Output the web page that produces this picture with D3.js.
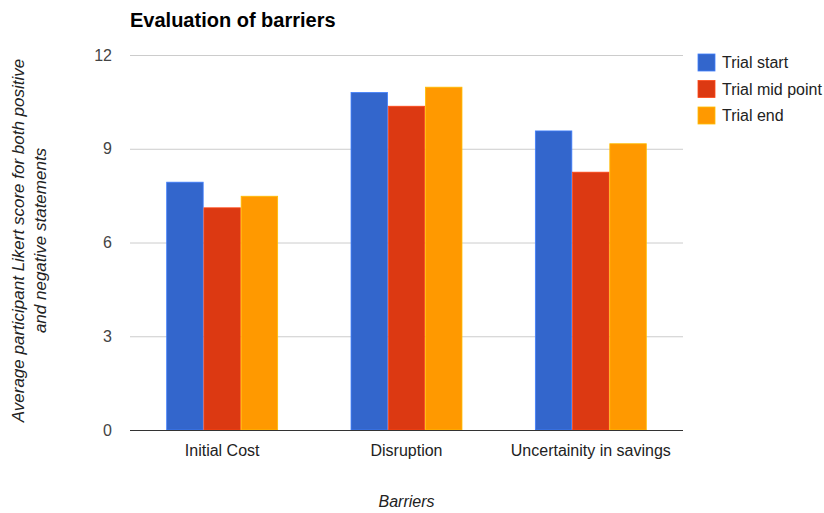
<!DOCTYPE html>
<html>
<head>
<meta charset="utf-8">
<script src="https://cdn.jsdelivr.net/npm/d3@7"></script>
<style>
  body { margin: 0; background: #fff; }
  svg { font-family: "Liberation Sans", Arial, sans-serif; }
</style>
</head>
<body>
<svg id="chart" width="824" height="513"></svg>
<script>
// Barrier categories and the three survey rounds
const categories = ["Initial Cost", "Disruption", "Uncertainity in savings"];
const seriesNames = ["Trial start", "Trial mid point", "Trial end"];
const trialStart = [7.93, 10.8, 9.57];
const trialMid = [7.11, 10.36, 8.25];
const trialEnd = [7.48, 10.97, 9.16];
const yTicks = [0, 3, 6, 9, 12];
const colors = ["#3366cc", "#dc3912", "#ff9900"];

const seriesValues = [trialStart, trialMid, trialEnd];

const svg = d3.select("#chart");
const margin = { left: 130, right: 141, top: 55, bottom: 83 };
const W = 824, H = 513;
const innerW = W - margin.left - margin.right;
const innerH = H - margin.top - margin.bottom;

const x0 = d3.scaleBand().domain(categories).range([margin.left, margin.left + innerW]).paddingInner(0.39).paddingOuter(0.195);
const x1 = d3.scaleBand().domain(seriesNames).range([0, x0.bandwidth()]).padding(0.02);
const y = d3.scaleLinear().domain([0, 12]).range([margin.top + innerH, margin.top]);

// Gridlines
svg.append("g")
  .selectAll("line")
  .data(yTicks.filter(t => t !== 0))
  .join("line")
  .attr("x1", margin.left).attr("x2", margin.left + innerW)
  .attr("y1", d => y(d) + 0.5).attr("y2", d => y(d) + 0.5)
  .attr("stroke", "#cccccc").attr("stroke-width", 1);

// Y tick labels
svg.append("g")
  .selectAll("text")
  .data(yTicks)
  .join("text")
  .attr("x", margin.left - 18)
  .attr("y", d => y(d))
  .attr("dy", "0.35em")
  .attr("text-anchor", "end")
  .attr("font-size", 16)
  .attr("fill", "#444")
  .text(d => d);

// Bars
const groups = svg.append("g")
  .selectAll("g")
  .data(categories)
  .join("g")
  .attr("transform", d => `translate(${x0(d)},0)`);

groups.selectAll("rect")
  .data((c, i) => seriesNames.map((s, j) => ({ s, v: seriesValues[j][i], j })))
  .join("rect")
  .attr("x", d => x1(d.s))
  .attr("y", d => y(d.v))
  .attr("width", x1.bandwidth())
  .attr("height", d => y(0) - y(d.v))
  .attr("fill", d => colors[d.j])
  .attr("stroke", d => d3.color(colors[d.j]).brighter(0.6))
  .attr("stroke-width", 0.8);

// Baseline
svg.append("line")
  .attr("x1", margin.left).attr("x2", margin.left + innerW)
  .attr("y1", y(0) + 0.5).attr("y2", y(0) + 0.5)
  .attr("stroke", "#333").attr("stroke-width", 1);

// X tick labels
svg.append("g")
  .selectAll("text")
  .data(categories)
  .join("text")
  .attr("x", d => x0(d) + x0.bandwidth() / 2)
  .attr("y", y(0) + 26)
  .attr("text-anchor", "middle")
  .attr("font-size", 16)
  .attr("fill", "#222")
  .text(d => d);

// Title
svg.append("text")
  .attr("x", margin.left)
  .attr("y", 27)
  .attr("font-size", 20)
  .attr("font-weight", "bold")
  .attr("fill", "#000")
  .text("Evaluation of barriers");

// X axis title
svg.append("text")
  .attr("x", margin.left + innerW / 2)
  .attr("y", 507)
  .attr("text-anchor", "middle")
  .attr("font-size", 16)
  .attr("font-style", "italic")
  .attr("fill", "#222")
  .text("Barriers");

// Y axis title (two lines)
const yTitle = svg.append("text")
  .attr("transform", `translate(24,${margin.top + innerH / 2 - 2}) rotate(-90)`)
  .attr("text-anchor", "middle")
  .attr("font-size", 17)
  .attr("font-style", "italic")
  .attr("fill", "#222");
yTitle.append("tspan").attr("x", 0).attr("y", 0).text("Average participant Likert score for both positive");
yTitle.append("tspan").attr("x", 0).attr("y", 22).text("and negative statements");

// Legend
const legend = svg.append("g")
  .selectAll("g")
  .data(seriesNames)
  .join("g")
  .attr("transform", (d, i) => `translate(698,${54 + i * 26.5})`);
legend.append("rect")
  .attr("width", 17).attr("height", 17)
  .attr("fill", (d, i) => colors[i])
  .attr("stroke", (d, i) => d3.color(colors[i]).brighter(0.6))
  .attr("stroke-width", 0.8);
legend.append("text")
  .attr("x", 24)
  .attr("y", 8.5)
  .attr("dy", "0.35em")
  .attr("font-size", 16)
  .attr("fill", "#222")
  .text(d => d);
</script>
</body>
</html>
